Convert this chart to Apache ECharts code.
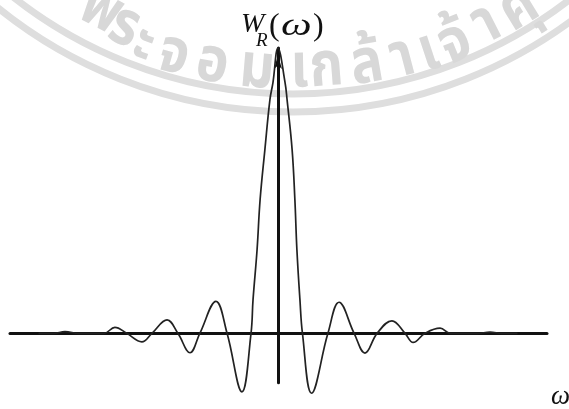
<!DOCTYPE html>
<html>
<head>
<meta charset="utf-8">
<script src="https://cdn.jsdelivr.net/npm/echarts@6/dist/echarts.min.js"></script>
<style>
  html, body { margin: 0; padding: 0; background: #ffffff; }
  #chart { width: 569px; height: 409px; }
</style>
</head>
<body>
<div id="chart"></div>
<script>
// ---- data ----
// omega in units of the zero-crossing spacing (2π/N), W_R normalised to peak = 1
const omega = [-9.5,-8.9,-8.45,-7.9,-6.9,-6.47,-6.0,-5.4,-5.0,-4.4,-3.97,-3.49,-3.1,-2.46,-2.02,-1.43,-1.07,-0.99,-0.83,-0.71,-0.52,-0.32,-0.2,0,0.28,0.36,0.56,0.67,0.75,0.87,0.97,1.33,1.98,2.42,3.02,3.45,3.93,4.52,5.04,5.36,5.83,6.43,6.83,7.9,8.41,8.9,9.5];
const wR = [0,0,0.006,0,0,0.021,0,-0.03,0,0.047,0,-0.068,0,0.112,0,-0.205,0,0.118,0.293,0.468,0.644,0.819,0.879,1.0,0.879,0.819,0.644,0.468,0.293,0.118,0,-0.21,0,0.109,0,-0.069,0,0.044,0,-0.032,0,0.018,0,0,0.004,0,0];
const xRange = [-10.63, 10.67];
const yRange = [-0.173, 1.0];
const yLabelMain = 'W';
const yLabelSub = 'R';
const xLabel = 'ω';
// watermark (background seal text)
const wmChars  = ['พ','ร','ะ','จ','อ','ม','เ','ก','ล้','า','เ','จ้','า','คุ'];
const wmAngles = [-27.5,-23.6,-20.3,-16.1,-10.8,-4.8,0.9,4.5,9.9,14.7,18.3,22,26.8,31.6];
const wmRadii  = [420,425,433,435,434,434,432,432,434,435,437,438,433,435];

const chart = echarts.init(document.getElementById('chart'), null, {renderer: 'canvas'});

const WM_CX = 293, WM_CY = -358;
const wmGraphics = [
  {type: 'circle', silent: true, z: -10, shape: {cx: WM_CX, cy: WM_CY, r: 452},
   style: {fill: 'none', stroke: '#dedede', lineWidth: 7}},
  {type: 'circle', silent: true, z: -10, shape: {cx: WM_CX, cy: WM_CY, r: 470},
   style: {fill: 'none', stroke: '#dedede', lineWidth: 7}}
];
wmChars.forEach(function (ch, i) {
  const a = wmAngles[i] * Math.PI / 180;
  const r = wmRadii[i];
  wmGraphics.push({
    type: 'text', silent: true, z: -10,
    x: WM_CX + r * Math.sin(a), y: WM_CY + r * Math.cos(a),
    rotation: a, scaleY: 1.15,
    style: {text: ch, font: 'bold 54px "Noto Sans Thai", "Noto Sans", sans-serif', fill: '#d8d8d8',
            align: 'center', verticalAlign: 'middle', textAlign: 'center', textVerticalAlign: 'middle'}
  });
});

function t(txt, x, y, font, sx) {
  return {type: 'text', z: 10, x: x, y: y, scaleX: sx || 1,
    style: {text: txt, font: font, fill: '#111',
            align: 'left', verticalAlign: 'middle', textAlign: 'left', textVerticalAlign: 'middle'}};
}
const labelGraphics = [
  t(yLabelMain, 241, 25, 'italic 28px "Liberation Serif"'),
  t(yLabelSub, 256, 41, 'italic 19px "Liberation Serif"'),
  t('(', 269, 27, '32px "Liberation Serif"'),
  t(xLabel, 281, 27, 'italic 31px "Liberation Serif"', 1.4),
  t(')', 313, 27, '32px "Liberation Serif"'),
  t(xLabel, 551, 397, 'italic 27px "Liberation Serif"')
];

const option = {
  animation: false,
  backgroundColor: '#ffffff',
  grid: {left: 10, right: 22, top: 48, bottom: 26.3, containLabel: false},
  xAxis: {
    type: 'value', min: xRange[0], max: xRange[1],
    axisLine: {show: true, onZero: true, lineStyle: {color: '#111', width: 3}},
    axisTick: {show: false}, axisLabel: {show: false}, splitLine: {show: false}
  },
  yAxis: {
    type: 'value', min: yRange[0], max: yRange[1],
    axisLine: {show: true, onZero: true, symbol: ['none', 'arrow'], symbolSize: [6, 14], symbolOffset: [0, -7],
               lineStyle: {color: '#111', width: 3}},
    axisTick: {show: false}, axisLabel: {show: false}, splitLine: {show: false}
  },
  graphic: {elements: wmGraphics.concat(labelGraphics)},
  series: [{
    type: 'line',
    data: omega.map(function (w, i) { return [w, wR[i]]; }),
    showSymbol: false, symbol: 'none',
    smooth: 0.4,
    clip: false,
    lineStyle: {color: '#222', width: 1.7},
    z: 5
  }]
};
chart.setOption(option);
</script>
</body>
</html>
